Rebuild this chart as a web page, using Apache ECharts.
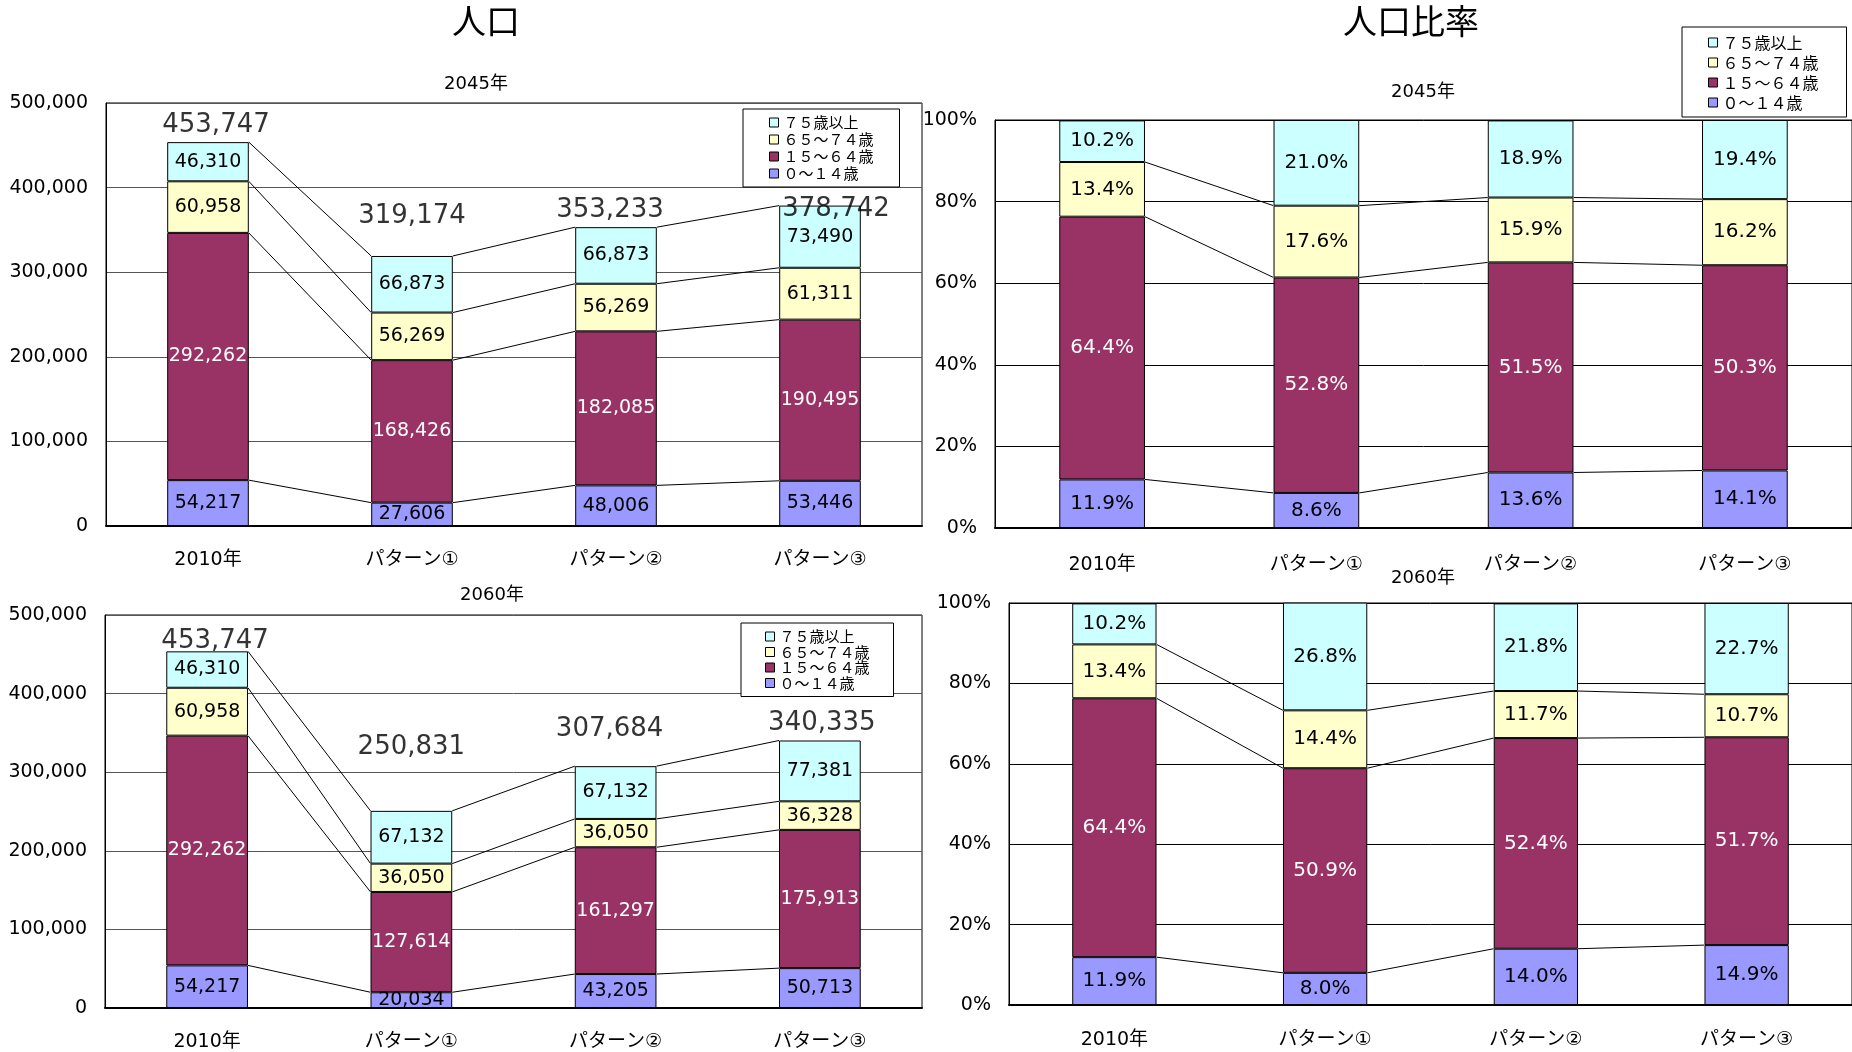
<!DOCTYPE html>
<html>
<head>
<meta charset="utf-8">
<script src="https://cdn.jsdelivr.net/npm/echarts@6/dist/echarts.min.js"></script>
<style>
  html, body { margin: 0; padding: 0; background: #fff; }
  #main { width: 1852px; height: 1052px; }
</style>
</head>
<body>
<div id="main"></div>
<script>
var categories = ['2010年', 'パターン①', 'パターン②', 'パターン③']
var ageGroups = ['０～１４歳', '１５～６４歳', '６５～７４歳', '７５歳以上']
var legendOrder = ['７５歳以上', '６５～７４歳', '１５～６４歳', '０～１４歳']

// 人口 2045年
var pop2045Age0to14 = [54217, 27606, 48006, 53446]
var pop2045Age15to64 = [292262, 168426, 182085, 190495]
var pop2045Age65to74 = [60958, 56269, 56269, 61311]
var pop2045Age75plus = [46310, 66873, 66873, 73490]
var pop2045Total = [453747, 319174, 353233, 378742]

// 人口 2060年
var pop2060Age0to14 = [54217, 20034, 43205, 50713]
var pop2060Age15to64 = [292262, 127614, 161297, 175913]
var pop2060Age65to74 = [60958, 36050, 36050, 36328]
var pop2060Age75plus = [46310, 67132, 67132, 77381]
var pop2060Total = [453747, 250831, 307684, 340335]

// 人口比率 (%)
var rate2045Age0to14 = [11.9, 8.6, 13.6, 14.1]
var rate2045Age15to64 = [64.4, 52.8, 51.5, 50.3]
var rate2045Age65to74 = [13.4, 17.6, 15.9, 16.2]
var rate2045Age75plus = [10.2, 21.0, 18.9, 19.4]

var rate2060Age0to14 = [11.9, 8.0, 14.0, 14.9]
var rate2060Age15to64 = [64.4, 50.9, 52.4, 51.7]
var rate2060Age65to74 = [13.4, 14.4, 11.7, 10.7]
var rate2060Age75plus = [10.2, 26.8, 21.8, 22.7]

var colors = ['#9999FF', '#993366', '#FFFFCC', '#CCFFFF']
var labelColors = ['#000', '#fff', '#000', '#000']
var fontMain = "'DejaVu Sans', 'Noto Sans CJK JP', sans-serif"
var fontJp = "'Noto Sans CJK JP', sans-serif"

// total label nudges [dx, dy] (style only)
var totalOffset2045 = [[8, -2], [0, -25], [-6, -2], [16, 19]]
var totalOffset2060 = [[8, 5], [0, -49], [-6, -22], [2, -2]]

function fmt(v) {
    return v.toLocaleString('en-US')
}

function cumulate(groups) {
    var out = []
    var run = [0, 0, 0, 0]
    for (var g = 0; g < groups.length; g++) {
        run = run.map(function (r, i) { return r + groups[g][i] })
        out.push(run.slice())
    }
    return out
}

function barSeries(idx, groups, isRate) {
    return groups.map(function (vals, g) {
        return {
            name: ageGroups[g],
            type: 'bar',
            xAxisIndex: idx,
            yAxisIndex: idx,
            stack: 'g' + idx,
            barWidth: '40%',
            data: vals,
            z: 3,
            itemStyle: { color: colors[g], borderColor: '#000', borderWidth: 1 },
            label: {
                show: true,
                position: 'inside',
                color: labelColors[g],
                fontSize: isRate ? 20 : 19,
                fontFamily: fontMain,
                formatter: function (p) {
                    return isRate ? p.value.toFixed(1) + '%' : fmt(p.value)
                }
            }
        }
    })
}

function connectorSeries(idx, stacks) {
    return {
        type: 'custom',
        xAxisIndex: idx,
        yAxisIndex: idx,
        silent: true,
        z: 2,
        data: [[0], [1], [2]],
        encode: { x: 0 },
        renderItem: function (params, api) {
            var i = api.value(0)
            var half = api.size([1, 0])[0] * 0.2
            var kids = []
            stacks.forEach(function (s) {
                var p1 = api.coord([i, s[i]])
                var p2 = api.coord([i + 1, s[i + 1]])
                kids.push({
                    type: 'line',
                    shape: { x1: p1[0] + half, y1: p1[1], x2: p2[0] - half, y2: p2[1] },
                    style: { stroke: '#000', lineWidth: 1 }
                })
            })
            return { type: 'group', children: kids }
        }
    }
}

function totalSeries(idx, totals, offsets) {
    return {
        type: 'scatter',
        xAxisIndex: idx,
        yAxisIndex: idx,
        symbolSize: 0,
        silent: true,
        z: 5,
        data: totals.map(function (v, i) {
            return { value: v, label: { offset: offsets[i] } }
        }),
        label: {
            show: true,
            position: 'top',
            distance: 2,
            color: '#000',
            fontSize: 26,
            fontFamily: fontMain,
            formatter: function (p) { return fmt(p.value) }
        }
    }
}

function xAxis(idx, margin) {
    return {
        type: 'category',
        gridIndex: idx,
        data: categories,
        axisLine: { lineStyle: { color: '#000', width: 2 } },
        axisTick: { inside: true, length: 7, lineStyle: { color: '#555' } },
        axisLabel: { fontSize: 19, color: '#000', margin: margin, fontFamily: fontMain }
    }
}

function yAxis(idx, isRate) {
    return {
        type: 'value',
        gridIndex: idx,
        min: 0,
        max: isRate ? 100 : 500000,
        interval: isRate ? 20 : 100000,
        axisLine: { show: true, lineStyle: { color: '#000', width: 1 } },
        axisTick: { show: false },
        splitLine: { lineStyle: { color: isRate ? '#000' : '#555', width: 1 } },
        axisLabel: {
            fontSize: 19,
            color: '#000',
            margin: 18,
            verticalAlign: 'middle',
            padding: [7, 0, 0, 0],
            fontFamily: fontMain,
            formatter: function (v) { return isRate ? v + '%' : fmt(v) }
        }
    }
}

function legend(left, top, fontSize, lineHeight, gap, padding) {
    return {
        orient: 'vertical',
        left: left,
        top: top,
        data: legendOrder,
        icon: 'rect',
        itemWidth: 9,
        itemHeight: 9,
        itemGap: gap,
        padding: padding,
        borderColor: '#000',
        borderWidth: 1,
        backgroundColor: '#fff',
        selectedMode: false,
        itemStyle: { borderColor: '#000', borderWidth: 1 },
        textStyle: { fontSize: fontSize, lineHeight: lineHeight, color: '#000', fontFamily: fontJp }
    }
}

function subTitle(text, x, y, size) {
    return {
        text: text,
        left: x,
        top: y,
        textAlign: 'center',
        padding: 0,
        textStyle: { fontSize: size, lineHeight: size, fontWeight: 'normal', color: '#000', fontFamily: fontMain }
    }
}

var g2045 = [pop2045Age0to14, pop2045Age15to64, pop2045Age65to74, pop2045Age75plus]
var g2060 = [pop2060Age0to14, pop2060Age15to64, pop2060Age65to74, pop2060Age75plus]
var r2045 = [rate2045Age0to14, rate2045Age15to64, rate2045Age65to74, rate2045Age75plus]
var r2060 = [rate2060Age0to14, rate2060Age15to64, rate2060Age65to74, rate2060Age75plus]

var option = {
    backgroundColor: '#fff',
    animation: false,
    textStyle: { fontFamily: fontMain },
    title: [
        subTitle('人口', 486, 8, 34),
        subTitle('人口比率', 1411, 8, 34),
        subTitle('2045年', 476, 75, 18),
        subTitle('2060年', 492, 586, 18),
        subTitle('2045年', 1423, 83, 18),
        subTitle('2060年', 1423, 569, 18)
    ],
    legend: [
        legend(743, 109, 15, 15, 2, [6, 26, 6, 26]),
        legend(741, 623, 15, 14, 0.5, [6, 24, 6, 24]),
        legend(1682, 27, 16, 17, 3, [7, 28, 6, 26])
    ],
    grid: [
        { left: 106, top: 103, width: 816, height: 423, show: true, borderColor: '#000', borderWidth: 1 },
        { left: 105, top: 615, width: 817, height: 393, show: true, borderColor: '#000', borderWidth: 1 },
        { left: 995, top: 120, width: 858, height: 408, show: true, borderColor: '#000', borderWidth: 1 },
        { left: 1009, top: 603, width: 843, height: 402, show: true, borderColor: '#000', borderWidth: 1 }
    ],
    xAxis: [xAxis(0, 25), xAxis(1, 25), xAxis(2, 28), xAxis(3, 26)],
    yAxis: [yAxis(0, false), yAxis(1, false), yAxis(2, true), yAxis(3, true)],
    series: []
}

option.series = option.series
    .concat(barSeries(0, g2045, false))
    .concat([connectorSeries(0, cumulate(g2045)), totalSeries(0, pop2045Total, totalOffset2045)])
    .concat(barSeries(1, g2060, false))
    .concat([connectorSeries(1, cumulate(g2060)), totalSeries(1, pop2060Total, totalOffset2060)])
    .concat(barSeries(2, r2045, true))
    .concat([connectorSeries(2, cumulate(r2045).slice(0, 3))])
    .concat(barSeries(3, r2060, true))
    .concat([connectorSeries(3, cumulate(r2060).slice(0, 3))])

var myChart = echarts.init(document.getElementById('main'))
myChart.setOption(option)
</script>
</body>
</html>
